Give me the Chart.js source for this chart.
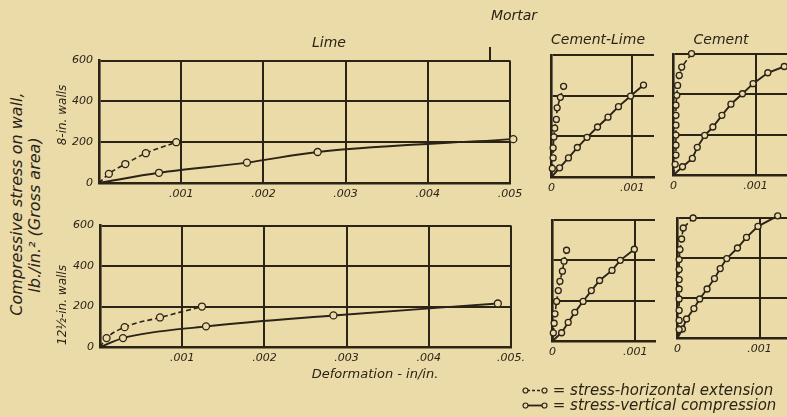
<!DOCTYPE html>
<html><head><meta charset="utf-8">
<script src="https://cdn.jsdelivr.net/npm/chart.js@4.4.0/dist/chart.umd.min.js"></script>
<style>
html,body{margin:0;padding:0;}
body{width:787px;height:417px;overflow:hidden;position:relative;background:#ebdba8;font-family:'DejaVu Sans',sans-serif;font-style:italic;color:#2a2316;}
canvas{position:absolute;}
.t{position:absolute;white-space:nowrap;line-height:1;}
.rot{transform:translate(-50%,-50%) rotate(-90deg);}
.c{transform:translate(-50%,-50%);}
</style></head><body>
<canvas id="limeTop"></canvas>
<canvas id="limeBot"></canvas>
<canvas id="clTop"></canvas>
<canvas id="clBot"></canvas>
<canvas id="cTop"></canvas>
<canvas id="cBot"></canvas>

<div style="position:absolute;left:489px;top:47px;width:1.5px;height:13px;background:#2a2316"></div>
<div class="t c" style="left:514px;top:15px;font-size:14px">Mortar</div>
<div class="t c" style="left:329px;top:42px;font-size:14px">Lime</div>
<div class="t c" style="left:598px;top:39px;font-size:14px">Cement-Lime</div>
<div class="t c" style="left:721px;top:39px;font-size:14px">Cement</div>
<div class="t rot" style="left:17px;top:204px;font-size:16px">Compressive stress on wall,</div>
<div class="t rot" style="left:35px;top:215px;font-size:16px">lb./in.² (Gross area)</div>
<div class="t rot" style="left:62px;top:115px;font-size:12px">8-in. walls</div>
<div class="t rot" style="left:62px;top:305px;font-size:12px">12½-in. walls</div>
<div class="t c" style="left:375px;top:373px;font-size:13px">Deformation - in/in.</div>
<div class="t" style="left:522px;top:383px;font-size:15px"><svg width="26" height="9" style="vertical-align:middle"><line x1="5" y1="4.5" x2="21" y2="4.5" stroke="#2a2316" stroke-width="1.5" stroke-dasharray="3,2"/><circle cx="3.5" cy="4.5" r="2.5" fill="#ebdba8" stroke="#2a2316" stroke-width="1.2"/><circle cx="22.5" cy="4.5" r="2.5" fill="#ebdba8" stroke="#2a2316" stroke-width="1.2"/></svg> = stress-horizontal extension</div>
<div class="t" style="left:522px;top:398px;font-size:15px"><svg width="26" height="9" style="vertical-align:middle"><line x1="5" y1="4.5" x2="21" y2="4.5" stroke="#2a2316" stroke-width="1.8"/><circle cx="3.5" cy="4.5" r="2.5" fill="#ebdba8" stroke="#2a2316" stroke-width="1.2"/><circle cx="22.5" cy="4.5" r="2.5" fill="#ebdba8" stroke="#2a2316" stroke-width="1.2"/></svg> = stress-vertical compression</div>

<script>
// ---- tick values / labels ----
const yTicks = [0, 200, 400, 600];
const yLabels = ['0', '200', '400', '600'];
const limeXTicks = [0, 0.001, 0.002, 0.003, 0.004, 0.005];
const limeXLabelsTop = ['', '.001', '.002', '.003', '.004', '.005'];
const limeXLabelsBot = ['', '.001', '.002', '.003', '.004', '.005.'];
const smallXTicks = [0, 0.001];
const smallXLabels = ['0', '.001'];

// ---- Lime mortar, 8-in. walls ----
const limeTopHorizX = [0, 0.00012, 0.00032, 0.00057, 0.00094];
const limeTopHorizY = [0, 45, 93, 146, 200];
const limeTopVertX = [0, 0.00073, 0.0018, 0.00266, 0.00504];
const limeTopVertY = [0, 50, 100, 152, 215];
// ---- Lime mortar, 12.5-in. walls ----
const limeBotHorizX = [0, 0.00008, 0.0003, 0.00073, 0.00124];
const limeBotHorizY = [0, 44, 98, 146, 200];
const limeBotVertX = [0, 0.00028, 0.00129, 0.00284, 0.00484];
const limeBotVertY = [0, 44, 102, 156, 215];

// ---- Cement-Lime mortar, 8-in. ----
const clTopHorizX = [0, 0.00001, 0.00002, 0.00002, 0.00003, 0.00004, 0.00006, 0.00007, 0.00011, 0.00015];
const clTopHorizY = [0, 42, 94, 143, 197, 240, 283, 340, 392, 446];
const clTopVertX = [0, 0.0001, 0.00021, 0.00032, 0.00044, 0.00057, 0.0007, 0.00083, 0.00098, 0.00114];
const clTopVertY = [0, 45, 94, 145, 195, 246, 294, 346, 398, 452];
// ---- Cement-Lime mortar, 12.5-in. ----
const clBotHorizX = [0, 0.00001, 0.00002, 0.00003, 0.00005, 0.00007, 0.00009, 0.00012, 0.00014, 0.00017];
const clBotHorizY = [0, 40, 88, 135, 196, 250, 296, 346, 396, 450];
const clBotVertX = [0, 0.00011, 0.00019, 0.00027, 0.00037, 0.00047, 0.00057, 0.00072, 0.00082, 0.00099];
const clBotVertY = [0, 41, 92, 142, 196, 250, 300, 350, 400, 455];

// ---- Cement mortar, 8-in. ----
const cTopHorizX = [0, 0.00002, 0.00003, 0.00003, 0.00003, 0.00003, 0.00003, 0.00003, 0.00004, 0.00005, 0.00007, 0.0001, 0.00022];
const cTopHorizY = [0, 53, 99, 148, 198, 247, 296, 346, 395, 444, 494, 535, 602];
const cTopVertX = [0, 0.00011, 0.00023, 0.00029, 0.00038, 0.00048, 0.00059, 0.0007, 0.00084, 0.00097, 0.00115, 0.00135];
const cTopVertY = [0, 41, 82, 137, 196, 238, 296, 351, 403, 453, 507, 538];
// ---- Cement mortar, 12.5-in. ----
const cBotHorizX = [0, 0.00002, 0.00002, 0.00002, 0.00002, 0.00002, 0.00002, 0.00002, 0.00002, 0.00003, 0.00005, 0.00007, 0.00019];
const cBotHorizY = [0, 42, 88, 138, 195, 245, 292, 342, 392, 442, 495, 550, 600];
const cBotVertX = [0, 0.00006, 0.00011, 0.0002, 0.00027, 0.00036, 0.00045, 0.00052, 0.0006, 0.00073, 0.00084, 0.00098, 0.00122];
const cBotVertY = [0, 45, 95, 147, 195, 245, 297, 347, 397, 450, 503, 558, 611];

const INK = '#2a2316';
const BG = '#ebdba8';
const FONT = "'DejaVu Sans', sans-serif";

function pts(xs, ys) { return xs.map((x, i) => ({x: x, y: ys[i]})); }

function series(xs, ys, dashed, r, smooth) {
  return {
    data: pts(xs, ys),
    borderColor: INK,
    borderWidth: dashed ? 1.6 : 1.9,
    borderDash: dashed ? [5, 3] : [],
    pointRadius: ctx => ctx.dataIndex === 0 ? 0 : r,
    pointBorderWidth: 1.3,
    pointBorderColor: INK,
    pointBackgroundColor: BG,
    cubicInterpolationMode: smooth ? 'monotone' : 'default',
    tension: smooth ? 0.4 : 0,
    clip: false,
    fill: false
  };
}

function panel(id, rect, xMax, xTicks, xLabels, showY, datasets) {
  const padL = 8, padT = 12, padR = 26, padB = 2;
  const yW = showY ? 40 : 0, xH = 24;
  const cv = document.getElementById(id);
  const W = rect.r - rect.l + yW + padL + padR;
  const H = rect.b - rect.t + padT + xH + padB;
  cv.width = W; cv.height = H;
  cv.style.width = W + 'px'; cv.style.height = H + 'px';
  cv.style.left = (rect.l - yW - padL) + 'px';
  cv.style.top = (rect.t - padT) + 'px';
  new Chart(cv, {
    type: 'line',
    data: { datasets: datasets },
    options: {
      responsive: false, animation: false, devicePixelRatio: 1,
      layout: { padding: { left: padL, top: padT, right: padR, bottom: padB } },
      plugins: { legend: { display: false }, tooltip: { enabled: false } },
      scales: {
        x: {
          type: 'linear', min: 0, max: xMax,
          afterBuildTicks: s => { s.ticks = xTicks.map(v => ({ value: v })); },
          afterFit: s => { s.height = xH; },
          grid: { color: INK, lineWidth: 2, drawTicks: false },
          border: { display: true, color: INK, width: 2.6 },
          ticks: {
            autoSkip: false, maxRotation: 0, padding: 5, color: INK,
            font: { family: FONT, size: 11, style: 'italic' },
            callback: v => xLabels[xTicks.indexOf(v)]
          }
        },
        y: {
          type: 'linear', min: 0, max: 600,
          afterBuildTicks: s => { s.ticks = yTicks.map(v => ({ value: v })); },
          afterFit: s => { s.width = yW; },
          grid: { color: INK, lineWidth: 2, drawTicks: false },
          border: { display: true, color: INK, width: 2.6 },
          ticks: {
            display: showY, padding: 6, color: INK,
            font: { family: FONT, size: 11, style: 'italic' },
            callback: v => yLabels[yTicks.indexOf(v)]
          }
        }
      }
    }
  });
}

panel('limeTop', {l: 99, t: 60, r: 510, b: 183}, 0.005, limeXTicks, limeXLabelsTop, true, [
  series(limeTopHorizX, limeTopHorizY, true, 3.5, true),
  series(limeTopVertX, limeTopVertY, false, 3.5, true)
]);
panel('limeBot', {l: 100, t: 225, r: 511, b: 347}, 0.005, limeXTicks, limeXLabelsBot, true, [
  series(limeBotHorizX, limeBotHorizY, true, 3.5, true),
  series(limeBotVertX, limeBotVertY, false, 3.5, true)
]);
panel('clTop', {l: 551, t: 55, r: 654, b: 177}, 0.00127, smallXTicks, smallXLabels, false, [
  series(clTopHorizX, clTopHorizY, true, 3, false),
  series(clTopVertX, clTopVertY, false, 3, false)
]);
panel('clBot', {l: 552, t: 220, r: 655, b: 341}, 0.00124, smallXTicks, smallXLabels, false, [
  series(clBotHorizX, clBotHorizY, true, 3, false),
  series(clBotVertX, clBotVertY, false, 3, false)
]);
panel('cTop', {l: 673, t: 54, r: 790, b: 175}, 0.00142, smallXTicks, smallXLabels, false, [
  series(cTopHorizX, cTopHorizY, true, 3, false),
  series(cTopVertX, cTopVertY, false, 3, false)
]);
panel('cBot', {l: 677, t: 218, r: 790, b: 338}, 0.00137, smallXTicks, smallXLabels, false, [
  series(cBotHorizX, cBotHorizY, true, 3, false),
  series(cBotVertX, cBotVertY, false, 3, false)
]);
</script>
</body></html>
